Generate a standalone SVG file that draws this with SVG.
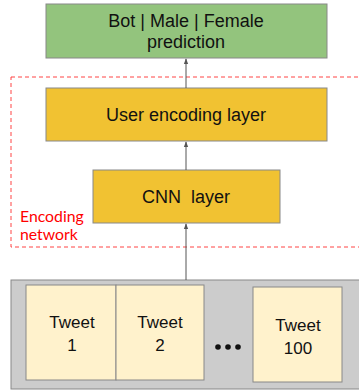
<svg xmlns="http://www.w3.org/2000/svg" width="359" height="392" viewBox="0 0 359 392">
<style>
.box{stroke:#888;stroke-width:1}
.t{font-family:"Liberation Sans",Arial,sans-serif;font-size:18px;fill:#111;text-anchor:middle}
.s{font-size:17px}
.c{stroke:#555;stroke-width:1;fill:none}
</style>
<defs>
<marker id="ah" viewBox="0 0 8 8" refX="7" refY="4" markerWidth="6" markerHeight="6" orient="auto">
<path d="M0,1 L8,4 L0,7 z" fill="#555"/>
</marker>
</defs>
<rect width="359" height="392" fill="#fff"/>
<g id="encoding-network">
<rect x="11" y="77" width="360" height="170" fill="none" stroke="#f44" stroke-width="1" stroke-dasharray="4,3"/>
<text x="20" y="222" font-family="Lato,'Open Sans',sans-serif" font-size="15.8" fill="#f00">Encoding</text>
<text x="20" y="240" font-family="Lato,'Open Sans',sans-serif" font-size="15.8" fill="#f00">network</text>
</g>
<g id="prediction">
<rect class="box" x="46" y="4" width="281" height="54" fill="#93c47d"/>
<text class="t" x="186" y="27">Bot | Male | Female</text>
<text class="t" x="186" y="48">prediction</text>
</g>
<g id="user-encoding">
<rect class="box" x="46" y="88" width="281" height="53" fill="#f1c232"/>
<text class="t" x="186" y="121">User encoding layer</text>
</g>
<g id="cnn">
<rect class="box" x="93" y="170" width="187" height="53" fill="#f1c232"/>
<text class="t" x="186" y="203" xml:space="preserve">CNN  layer</text>
</g>
<g id="tweets">
<rect class="box" x="11" y="280" width="360" height="109" fill="#cccccc"/>
<g id="tweet1">
<rect class="box" x="26" y="285" width="90" height="95" fill="#fff2cc"/>
<text class="t s" x="72" y="328">Tweet</text>
<text class="t s" x="72" y="351">1</text>
</g>
<g id="tweet2">
<rect class="box" x="116" y="285" width="88" height="95" fill="#fff2cc"/>
<text class="t s" x="160" y="328">Tweet</text>
<text class="t s" x="160" y="351">2</text>
</g>
<g id="dots" fill="#111">
<circle cx="218" cy="347" r="2.8"/>
<circle cx="228" cy="347" r="2.8"/>
<circle cx="238" cy="347" r="2.8"/>
</g>
<g id="tweet100">
<rect class="box" x="253" y="287" width="89" height="95" fill="#fff2cc"/>
<text class="t s" x="298" y="331">Tweet</text>
<text class="t s" x="298" y="354">100</text>
</g>
</g>
<g id="connectors">
<line class="c" x1="186" y1="88" x2="186" y2="59" marker-end="url(#ah)"/>
<line class="c" x1="186" y1="170" x2="186" y2="142" marker-end="url(#ah)"/>
<line class="c" x1="186" y1="280" x2="186" y2="224" marker-end="url(#ah)"/>
</g>
</svg>
